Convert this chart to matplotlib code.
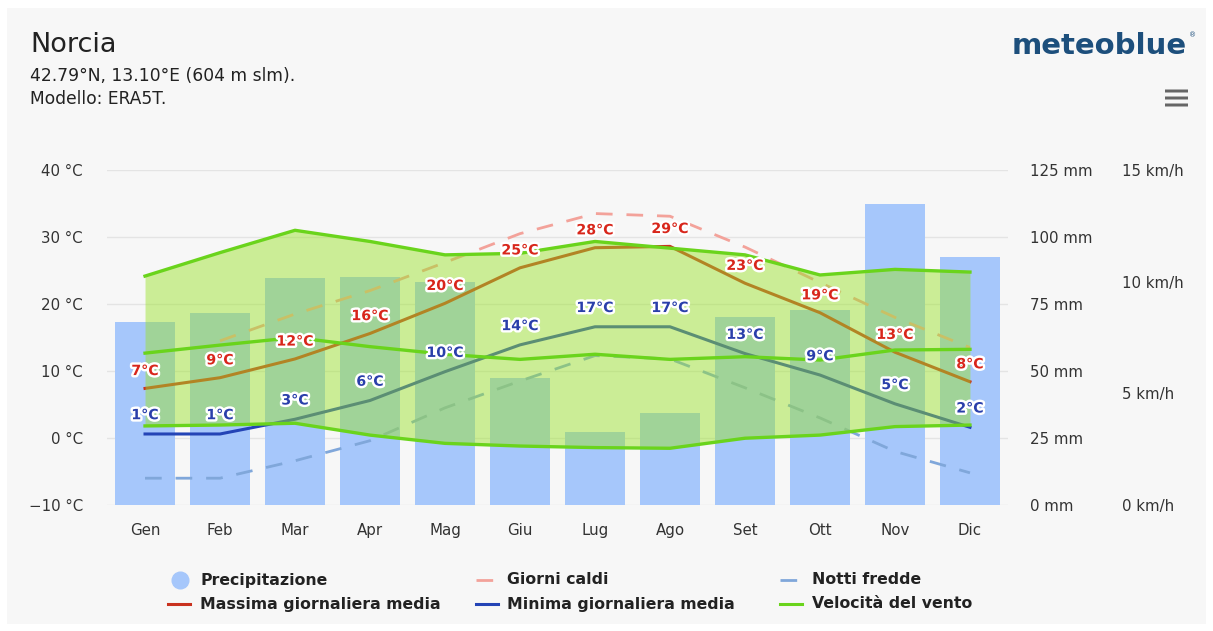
import matplotlib.pyplot as plt
import matplotlib.patheffects as pe
from matplotlib.patches import Rectangle, FancyBboxPatch
from matplotlib.lines import Line2D
import numpy as np

plt.rcParams['font.family'] = ['DejaVu Sans']

months = ['Gen', 'Feb', 'Mar', 'Apr', 'Mag', 'Giu', 'Lug', 'Ago', 'Set', 'Ott', 'Nov', 'Dic']
precip_mm = [68.4, 71.5, 84.6, 85.1, 83.3, 47.3, 27.4, 34.5, 70.3, 72.8, 112.2, 92.7]
temp_max = [7.4, 9.0, 11.8, 15.6, 20.1, 25.4, 28.4, 28.6, 23.1, 18.7, 12.8, 8.4]
temp_min = [0.6, 0.6, 2.8, 5.6, 9.9, 13.9, 16.6, 16.6, 12.6, 9.4, 5.1, 1.6]
hot_days = [np.nan, 14.5, 18.5, 22.0, 26.2, 30.5, 33.5, 33.1, 28.5, 23.2, 18.0, 13.5]
cold_nights = [-6.0, -6.0, -3.4, -0.4, 4.5, 8.5, 12.3, 11.8, 7.5, 3.0, -2.0, -5.2]
wind_upper = [10.25, 11.3, 12.3, 11.8, 11.2, 11.27, 11.8, 11.5, 11.2, 10.3, 10.55, 10.43]
wind_mean = [6.8, 7.16, 7.5, 7.09, 6.75, 6.52, 6.75, 6.52, 6.64, 6.49, 6.94, 6.97]
wind_lower = [3.54, 3.58, 3.66, 3.13, 2.76, 2.64, 2.57, 2.54, 2.99, 3.13, 3.51, 3.58]

temp_ticks = [-10, 0, 10, 20, 30, 40]
precip_ticks = [0, 25, 50, 75, 100, 125]
wind_ticks = [0, 5, 10, 15]

# colours
c_bar = '#a6c7fb'
c_max = '#c9321f'
c_min = '#2444b6'
c_hot = '#f3a29a'
c_cold = '#80a7da'
c_wind = '#6ad41c'
c_fill = '#9ae22a'
c_txt = '#333333'

W, H = 1213, 631
fig = plt.figure(figsize=(W / 100, H / 100), dpi=100, facecolor='white')
fig.add_artist(Rectangle((7 / W, 1 - 624 / H), 1199 / W, 616 / H, transform=fig.transFigure,
                         facecolor='#f7f7f7', edgecolor='none', zorder=-10))

pos = [107 / W, 1 - 505 / H, 901 / W, 335 / H]
ax_p = fig.add_axes(pos)
ax_t = fig.add_axes(pos, sharex=ax_p)
ax_w = fig.add_axes(pos, sharex=ax_p)
for z, a in enumerate([ax_p, ax_t, ax_w]):
    a.set_zorder(z + 1)
    a.patch.set_visible(False)
    for s in a.spines.values():
        s.set_visible(False)
    a.tick_params(length=0, labelsize=10.8, labelcolor=c_txt)

x = np.arange(len(months))

# precipitation bars + grid
ax_p.bar(x, precip_mm, width=0.81, color=c_bar, zorder=2)
ax_p.set_ylim(0, 125)
ax_p.set_xlim(-0.507, 11.507)
ax_p.set_yticks(precip_ticks)
ax_p.set_yticklabels([f'{v} mm' for v in precip_ticks], ha='left')
ax_p.yaxis.tick_right()
ax_p.tick_params(axis='y', pad=15.8)
ax_p.set_xticks(x)
ax_p.set_xticklabels(months)
ax_p.tick_params(axis='x', pad=13)
ax_p.grid(axis='y', color='#e4e4e4', linewidth=1, zorder=0)
ax_p.set_axisbelow(True)

# temperature lines
ax_t.plot(x, temp_max, color=c_max, lw=2.2, zorder=3)
ax_t.plot(x, temp_min, color=c_min, lw=2.2, zorder=3)
ax_t.plot(x, hot_days, color=c_hot, lw=2, dashes=(6, 5), zorder=2)
ax_t.plot(x, cold_nights, color=c_cold, lw=2, dashes=(6, 5), zorder=2)
ax_t.set_ylim(-10, 40)
ax_t.set_yticks(temp_ticks)
ax_t.set_yticklabels([f'{v} °C'.replace('-', '\u2212') for v in temp_ticks])
ax_t.tick_params(axis='y', pad=17.3)
ax_t.tick_params(axis='x', labelbottom=False)

# wind speed band and lines
ax_w.fill_between(x, wind_lower, wind_upper, color=c_fill, alpha=0.47, lw=0, zorder=1)
for series in (wind_upper, wind_mean, wind_lower):
    ax_w.plot(x, series, color=c_wind, lw=2.4, zorder=2)
ax_w.set_ylim(0, 15)
ax_w.set_yticks(wind_ticks)
ax_w.set_yticklabels([f'{v} km/h' for v in wind_ticks], ha='left')
ax_w.yaxis.tick_right()
ax_w.tick_params(axis='y', pad=82)
ax_w.tick_params(axis='x', labelbottom=False)

# value labels above the temperature points
halo = [pe.withStroke(linewidth=3.5, foreground='white')]
for xi, v in zip(x, temp_max):
    ax_w.annotate(f'{round(v)}°C', xy=(xi, v), xycoords=ax_t.transData, xytext=(0, 12.5),
                  textcoords='offset points', ha='center', va='center', fontsize=10.2,
                  fontweight='bold', color='#d8261b', path_effects=halo, zorder=5)
for xi, v in zip(x, temp_min):
    ax_w.annotate(f'{round(v)}°C', xy=(xi, v), xycoords=ax_t.transData, xytext=(0, 13.5),
                  textcoords='offset points', ha='center', va='center', fontsize=10.2,
                  fontweight='bold', color='#2a3faa', path_effects=halo, zorder=5)

# header
fig.text(30 / W, 1 - 45 / H, 'Norcia', fontsize=19.5, color='#222222', va='center')
fig.text(30 / W, 1 - 76 / H, '42.79°N, 13.10°E (604 m slm).', fontsize=12.3, color='#222222', va='center')
fig.text(30 / W, 1 - 99 / H, 'Modello: ERA5T.', fontsize=12.3, color='#222222', va='center')
fig.text(1187 / W, 1 - 46 / H, 'meteoblue', fontsize=21, fontweight='bold', color='#1d4f7c',
         ha='right', va='center')
fig.text(1189 / W, 1 - 35 / H, '®', fontsize=5, color='#1d4f7c', ha='left', va='center')
for yy in (91, 98, 105):
    fig.add_artist(FancyBboxPatch((1165 / W, 1 - (yy + 1.5) / H), 23 / W, 3 / H,
                                  boxstyle='round,pad=0', transform=fig.transFigure,
                                  facecolor='#666666', edgecolor='none'))

# legend
leg_font = dict(fontsize=11.3, fontweight='bold', color='#222222', va='center')
row1, row2 = 1 - 580 / H, 1 - 604 / H
fig.add_artist(Line2D([180 / W], [row1], marker='o', markersize=12, color=c_bar,
                      transform=fig.transFigure))
fig.text(200 / W, row1, 'Precipitazione', **leg_font)
fig.add_artist(Line2D([168 / W, 190 / W], [row2, row2], color=c_max, lw=2.2,
                      transform=fig.transFigure))
fig.text(200 / W, row2, 'Massima giornaliera media', **leg_font)
fig.add_artist(Line2D([476 / W, 498 / W], [row1, row1], color=c_hot, lw=2, dashes=(6, 5),
                      transform=fig.transFigure))
fig.text(507 / W, row1, 'Giorni caldi', **leg_font)
fig.add_artist(Line2D([476 / W, 498 / W], [row2, row2], color=c_min, lw=2.2,
                      transform=fig.transFigure))
fig.text(507 / W, row2, 'Minima giornaliera media', **leg_font)
fig.add_artist(Line2D([780 / W, 802 / W], [row1, row1], color=c_cold, lw=2, dashes=(6, 5),
                      transform=fig.transFigure))
fig.text(812 / W, row1, 'Notti fredde', **leg_font)
fig.add_artist(Line2D([780 / W, 802 / W], [row2, row2], color=c_wind, lw=2.2,
                      transform=fig.transFigure))
fig.text(812 / W, row2, 'Velocità del vento', **leg_font)

fig.savefig('out.png', dpi=100, facecolor='white')
